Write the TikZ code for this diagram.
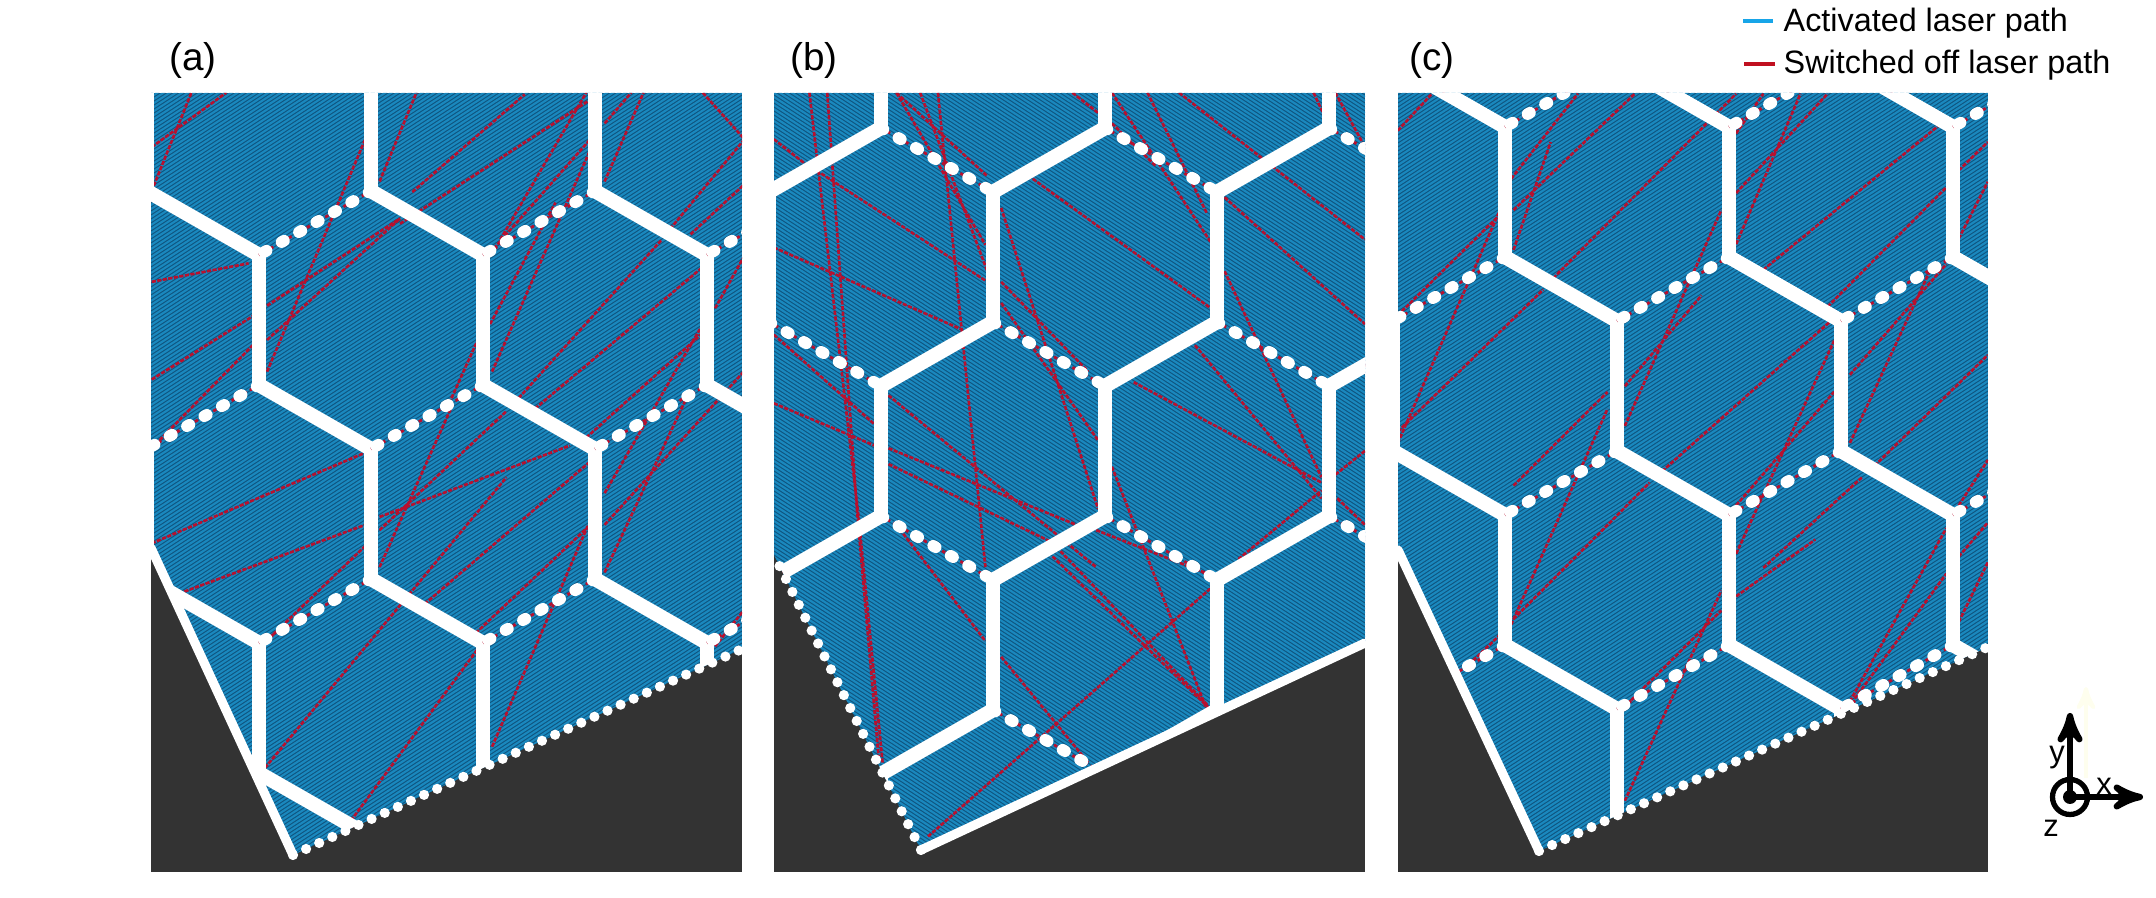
\documentclass[tikz,border=0pt]{standalone}
\usepackage{fontspec}
\setmainfont{Liberation Sans}
\usetikzlibrary{arrows}
\usetikzlibrary{calc}
\definecolor{hatchdark}{HTML}{0F5580}
\definecolor{hatchlight}{HTML}{1A88BE}
\definecolor{offred}{HTML}{B8102E}
\definecolor{legblue}{HTML}{17A5E8}
\definecolor{legred}{HTML}{C01020}
\definecolor{floor}{HTML}{333333}
\tikzset{>=stealth'}
\tikzset{wall/.style={white,line width=4.1pt,line cap=round}}
\tikzset{dotwall/.style={white,line width=3.3pt,line cap=round,dash pattern=on 0.8pt off 4.9pt}}
\tikzset{edge/.style={white,line width=2.6pt,line cap=round}}
\tikzset{dotedge/.style={white,line width=2.9pt,line cap=round,dash pattern=on 0pt off 4.1pt}}
\tikzset{redline/.style={offred,line width=0.75pt,dash pattern=on 1.2pt off 0.4pt}}
\tikzset{gapline/.style={offred,line width=0.8pt,dash pattern=on 1pt off 1pt}}
\tikzset{hatchline/.style={hatchlight,line width=0.6pt}}
\tikzset{lbl/.style={inner sep=0pt,font=\fontsize{11}{13}\selectfont}}
\tikzset{leg/.style={inner sep=0pt,anchor=west,font=\fontsize{9.2}{11}\selectfont}}
\tikzset{ax/.style={inner sep=0pt,font=\fontsize{8.8}{10}\selectfont}}
\newcommand{\hexdx}{112}
\newcommand{\hexs}{130}
\newcommand{\hext}{64}
\newcommand{\hatchfill}[5]{%
\fill[hatchdark] (#1,#3) rectangle (#2,#4);
\foreach \k in {0,4,...,1600}{\draw[hatchline] (#1,#3-400+\k) -- (#2,#3-400+\k+#5);}
}
\newcommand{\hexgrid}[4]{%
\foreach \i in {-3,...,5}{\foreach \j in {-3,...,4}{
\pgfmathtruncatemacro{\parity}{mod(\i+\j+20,2)}
\ifnum\parity=0
\coordinate (t) at ({#1+\i*\hexdx},{#2+\j*(\hexs+\hext)});
\coordinate (b) at ($(t)+(0,\hexs)$);
\coordinate (l) at ($(b)+(-\hexdx,\hext)$);
\coordinate (r) at ($(b)+(\hexdx,\hext)$);
\draw[gapline] (b) -- (l) (b) -- (r);
\draw[#3] (b) -- (l);
\draw[#4] (b) -- (r);
\draw[wall] (t) -- (b);
\fi
}}
}
\begin{document}
\begin{tikzpicture}[x=0.01cm,y=-0.01cm]
\useasboundingbox (0,0) rectangle (2156,898);

\fill[floor] (151,93) rectangle (742,872);
\begin{scope}
\clip (151,93) -- (742,93) -- (742,649) -- (293,855) -- (151,548) -- cycle;
\hatchfill{151}{742}{93}{872}{-384}
\begin{scope}[shift={(130,60)},x=0.004087cm,y=-0.00528cm]
\draw[redline] (53,165) -- (235,62) (58,238) -- (150,62) (53,420) -- (290,385) (53,605) -- (300,485)
 (53,735) -- (300,540) (335,465) -- (660,300) (335,530) -- (660,300) (335,590) -- (575,150)
 (610,230) -- (700,62) (660,310) -- (1125,75) (690,250) -- (965,65) (880,365) -- (1125,150)
 (905,340) -- (1115,62) (1160,120) -- (1225,62) (1160,230) -- (1255,62) (1400,62) -- (1502,150)
 (1320,320) -- (1502,150) (1370,330) -- (1502,235) (880,500) -- (1040,270) (885,590) -- (1125,170)
 (950,640) -- (1300,340) (990,660) -- (1395,395) (1115,715) -- (1395,520) (1160,820) -- (1400,500)
 (1160,880) -- (1500,590) (1160,970) -- (1360,640) (1430,470) -- (1502,370) (780,650) -- (850,530)
 (610,960) -- (790,650) (53,915) -- (570,745) (120,1010) -- (575,880) (330,1340) -- (920,790)
 (610,865) -- (1075,730) (610,890) -- (920,665) (720,1030) -- (1125,760) (845,1085) -- (1125,880)
 (885,1300) -- (1120,880) (540,1440) -- (850,1115) (340,1095) -- (575,920) (1430,1110) -- (1502,1040);
\end{scope}
\hexgrid{259}{255}{dotwall}{wall}
\end{scope}
\begin{scope}
\clip (151,93) rectangle (742,872);
\draw[edge] (151,548) -- (293,855);
\draw[dotedge] (293,855) -- (742,649);
\end{scope}

\fill[floor] (774,93) rectangle (1365,872);
\begin{scope}
\clip (774,93) -- (1365,93) -- (1365,643) -- (921,850) -- (774,555) -- cycle;
\hatchfill{774}{1365}{93}{872}{384}
\begin{scope}[shift={(760,60)},x=0.003953cm,y=-0.00528cm]
\draw[redline] (125,62) -- (250,870) -- (310,1330) (170,62) -- (245,850) -- (300,1320) (35,150) -- (120,200)
 (155,215) -- (575,420) (35,355) -- (510,510) (35,520) -- (290,690) (35,650) -- (290,730)
 (325,635) -- (850,960) (325,735) -- (800,880) (325,765) -- (730,910) (345,62) -- (575,220)
 (345,62) -- (570,350) (405,62) -- (575,400) (450,62) -- (570,960) (345,880) -- (570,1100)
 (610,420) -- (830,590) (610,280) -- (855,850) (610,460) -- (855,720) (690,225) -- (1140,470)
 (890,62) -- (1140,345) (980,62) -- (1130,290) (1060,62) -- (1530,340) (1175,260) -- (1530,500)
 (890,770) -- (1130,1230) (945,610) -- (1420,800) (1175,400) -- (1420,790) (1100,540) -- (1420,830)
 (850,890) -- (1140,975) (740,940) -- (1140,1230) (760,930) -- (1130,1220) (610,1130) -- (830,1330)
 (425,1470) -- (1140,1000) (1210,945) -- (1420,815) (1455,785) -- (1530,740) (1460,830) -- (1530,880)
 (1400,62) -- (1430,110) (1455,62) -- (1530,165) (790,62) -- (855,100) (890,120) -- (1000,200);
\end{scope}
\hexgrid{993}{192}{wall}{dotwall}
\end{scope}
\begin{scope}
\clip (774,93) rectangle (1365,872);
\draw[dotedge] (921,850) -- (774,555);
\draw[edge] (921,850) -- (1365,643);
\end{scope}

\fill[floor] (1398,93) rectangle (1988,872);
\begin{scope}
\clip (1398,93) -- (1988,93) -- (1988,647) -- (1539,851) -- (1398,550) -- cycle;
\hatchfill{1398}{1988}{93}{872}{-384}
\begin{scope}[shift={(1380,0)},x=0.004946cm,y=-0.005675cm]
\draw[redline] (36,230) -- (105,165) (36,555) -- (240,380) (36,780) -- (240,375) (265,315) -- (400,165)
 (270,370) -- (515,165) (270,440) -- (345,250) (350,490) -- (720,165) (36,760) -- (330,510)
 (495,680) -- (650,520) (495,750) -- (690,370) (720,340) -- (905,165) (720,430) -- (850,165)
 (720,235) -- (775,165) (775,475) -- (1145,210) (905,540) -- (1145,330) (950,660) -- (1145,465)
 (950,780) -- (1110,480) (1000,820) -- (1229,625) (1170,420) -- (1229,320) (1170,300) -- (1229,250)
 (570,830) -- (918,560) (720,890) -- (918,690) (720,975) -- (918,600) (265,1100) -- (460,720)
 (270,1090) -- (545,850) (180,1170) -- (240,1120) (495,1410) -- (690,1040) (500,1240) -- (690,1075)
 (775,1000) -- (975,840) (720,1050) -- (880,950) (950,1235) -- (1145,930) (960,1230) -- (1145,1010)
 (1170,890) -- (1229,810) (1170,1095) -- (1229,990) (1170,980) -- (1229,920) (270,855) -- (460,690);
\end{scope}
\hexgrid{1505}{127}{dotwall}{wall}
\end{scope}
\begin{scope}
\clip (1398,93) rectangle (1988,872);
\draw[edge] (1398,550) -- (1539,851);
\draw[dotedge] (1539,851) -- (1988,647);
\end{scope}

\node[lbl] (labA) at (193,61) {(a)};
\node[lbl] (labB) at (814,61) {(b)};
\node[lbl] (labC) at (1432,61) {(c)};

\node[leg] (legOn) at (1783,23) {Activated laser path};
\node[leg] (legOff) at (1783,65) {Switched off laser path};
\draw[legblue,line width=1.2pt] (1743,21) -- (1773,21);
\draw[legred,line width=1.2pt] (1744,64) -- (1775,64);

\coordinate (o) at (2070,797);
\coordinate (oy) at (2070,713);
\coordinate (ox) at (2143,797);
\coordinate (pa) at (2086,778);
\coordinate (pb) at (2086,687);
\draw[->,color={rgb,255:red,254;green,254;blue,238},line width=1.2pt] (pa) -- (pb);
\draw[->,line width=1.8pt] (o) -- (oy);
\draw[->,line width=1.8pt] (o) -- (ox);
\draw[line width=1.5pt] (o) circle (17.5);
\fill (o) circle (7);
\node[ax] (axY) at (2057,758) {y};
\node[ax] (axX) at (2104,786) {x};
\node[ax] (axZ) at (2051,828) {z};
\end{tikzpicture}
\end{document}
